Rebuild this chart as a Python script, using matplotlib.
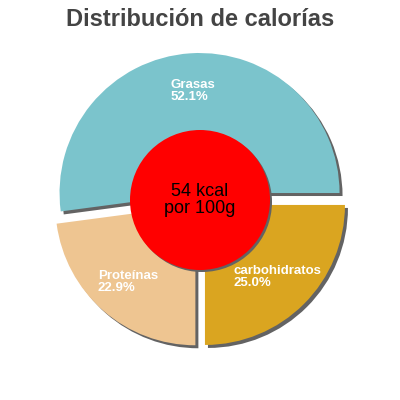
import matplotlib
matplotlib.use("Agg")
import matplotlib.pyplot as plt
from matplotlib.patches import Circle
from matplotlib.transforms import ScaledTranslation

# data (clockwise from 3 o'clock)
nutrients = ["carbohidratos", "Proteínas", "Grasas"]
percent = [25.0, 22.9, 52.1]
colors = ["#DAA520", "#EEC591", "#7BC4CC"]
center_lines = ["54 kcal", "por 100g"]

plt.rcParams["font.family"] = ["Liberation Sans", "DejaVu Sans"]

fig = plt.figure(figsize=(4, 4), dpi=100)
ax = fig.add_axes([0, 0, 1, 1])
shift = ax.transData + ScaledTranslation(3 / 100, -3 / 100, fig.dpi_scale_trans)

common = dict(startangle=0, counterclock=False, explode=[0.05] * len(percent), radius=1.0)

# shadow layer
shadows, _ = ax.pie(percent, colors=["#636363"] * len(percent),
                    wedgeprops=dict(linewidth=0), **common)
for s in shadows:
    s.set_transform(shift)
    s.set_zorder(2)

labels = [f"{n}\n{p:.1f}%" for n, p in zip(nutrients, percent)]
wedges, texts = ax.pie(
    percent, labels=labels, colors=colors, labeldistance=0.73,
    wedgeprops=dict(linewidth=0),
    textprops=dict(color="white", fontsize=9.5, fontweight="bold"),
    **common,
)
for w in wedges:
    w.set_zorder(3)
for t in texts:
    t.set_ha("center")
    t.set_va("center")
    t.set_multialignment("left")
    t.set_linespacing(0.95)
    t.set_zorder(6)

hs = Circle((0, 0), 0.5, facecolor="#636363", edgecolor="none", zorder=4,
            transform=ax.transData + ScaledTranslation(2 / 100, -2 / 100, fig.dpi_scale_trans))
ax.add_patch(hs)
hole = Circle((0, 0), 0.5, facecolor="#FF0000", edgecolor="none", zorder=5)
ax.add_patch(hole)
ax.text(0, 0, "\n".join(center_lines), ha="center", va="center",
        fontsize=13, color="black", zorder=7, linespacing=1.0)

lim = 200 / 140
ax.set_xlim(-lim, lim)
ax.set_ylim(-lim, lim)
ax.set_aspect("equal")
ax.axis("off")

fig.text(0.5, 1 - 19 / 400, "Distribución de calorías", ha="center", va="center",
         fontsize=17, fontweight="bold", color="#444444")

fig.savefig("out.png", dpi=100)
